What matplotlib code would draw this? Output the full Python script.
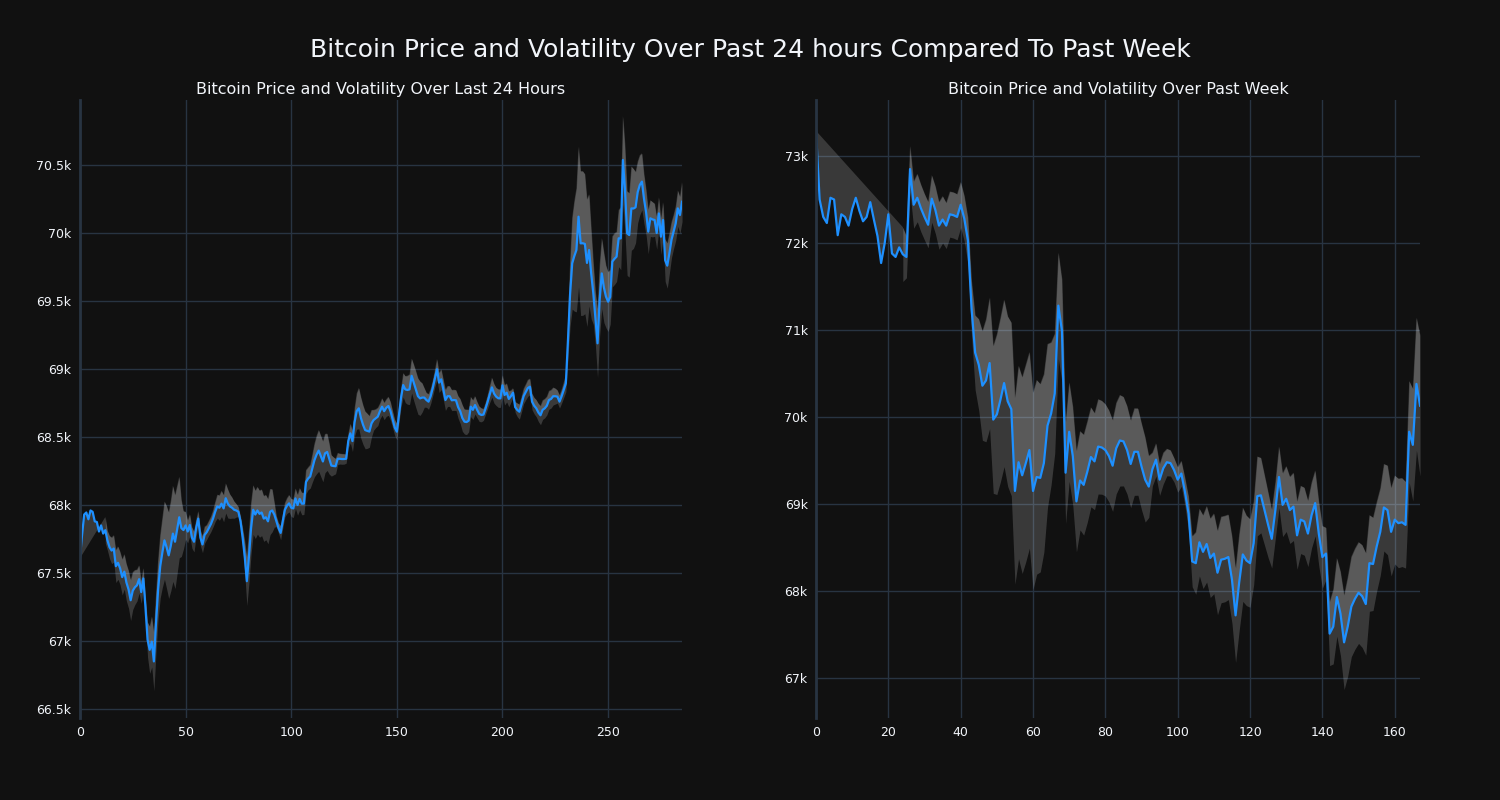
import numpy as np
import pandas as pd
import matplotlib
matplotlib.use("Agg")
from matplotlib import pyplot as plt
from matplotlib.ticker import FuncFormatter

# price over the last 24 hours (5 minute steps)
day_price = [
    67608, 67780, 67930, 67945, 67895, 67960, 67950, 67880, 67875, 67805,
    67850, 67790, 67815, 67740, 67690, 67665, 67680, 67550, 67575, 67535,
    67470, 67510, 67430, 67380, 67300, 67370, 67395, 67410, 67455, 67360,
    67460, 67250, 67010, 66935, 66995, 66850, 67130, 67380, 67550, 67650,
    67740, 67690, 67630, 67700, 67790, 67730, 67820, 67910, 67830, 67816,
    67850, 67805, 67853, 67760, 67730, 67830, 67900, 67760, 67710, 67780,
    67800, 67830, 67860, 67900, 67950, 67990, 67980, 68010, 67975, 68050,
    68010, 67990, 67980, 67965, 67960, 67950, 67880, 67760, 67620, 67440,
    67620, 67830, 67965, 67930, 67960, 67935, 67945, 67900, 67910, 67880,
    67950, 67960, 67930, 67880, 67830, 67795, 67880, 67965, 67995, 68012,
    67980, 67975, 68049, 68000, 68045, 68010, 68010, 68170, 68195, 68210,
    68270, 68330, 68370, 68400, 68360, 68320, 68380, 68390, 68340, 68290,
    68287, 68285, 68340, 68340, 68338, 68338, 68340, 68470, 68527, 68470,
    68610, 68690, 68711, 68640, 68590, 68551, 68545, 68540, 68600, 68625,
    68637, 68650, 68690, 68723, 68690, 68715, 68728, 68690, 68630, 68570,
    68539, 68660, 68790, 68882, 68850, 68846, 68850, 68950, 68900, 68850,
    68800, 68784, 68790, 68790, 68772, 68760, 68800, 68860, 68930, 68998,
    68900, 68924, 68850, 68772, 68800, 68800, 68770, 68772, 68770, 68720,
    68690, 68640, 68613, 68610, 68620, 68723, 68700, 68735, 68700, 68670,
    68662, 68665, 68710, 68760, 68815, 68865, 68820, 68797, 68785, 68784,
    68880, 68809, 68826, 68780, 68800, 68826, 68720, 68699, 68686, 68740,
    68800, 68830, 68860, 68870, 68760, 68730, 68711, 68680, 68660, 68700,
    68711, 68730, 68772, 68780, 68800, 68800, 68797, 68760, 68800, 68846,
    68895, 69213, 69550, 69777, 69830, 69875, 70120, 69924, 69925, 69920,
    69780, 69875, 69700, 69556, 69370, 69189, 69507, 69703, 69600, 69532,
    69495, 69530, 69790, 69810, 69826, 69961, 69960, 70537, 70316, 69998,
    69985, 70181, 70180, 70189, 70300, 70353, 70378, 70250, 70150, 70010,
    70108, 70100, 70096, 70000, 70144, 69973, 70096, 69800, 69760, 69850,
    69950, 70010, 70071, 70181, 70132, 70230,
]

# price over the past week (hourly)
week_price = [
    73290, 72500, 72300, 72230, 72520, 72500, 72090, 72330, 72300, 72200,
    72390, 72520, 72370, 72250, 72300, 72470, 72270, 72080, 71770, 72000,
    72330, 71880, 71840, 71950, 71870, 71840, 72850, 72440, 72520, 72400,
    72300, 72210, 72510, 72380, 72200, 72270, 72200, 72330, 72320, 72300,
    72440, 72280, 72030, 71250, 70740, 70600, 70360, 70420, 70620, 69970,
    70030, 70200, 70390, 70180, 70090, 69150, 69480, 69330, 69470, 69620,
    69150, 69310, 69300, 69470, 69900, 70040, 70270, 71280, 70990, 69360,
    69830, 69550, 69030, 69270, 69220, 69370, 69540, 69490, 69660, 69650,
    69620, 69550, 69440, 69640, 69730, 69720, 69620, 69460, 69600, 69600,
    69430, 69280, 69200, 69400, 69510, 69280, 69410, 69480, 69470, 69390,
    69280, 69350, 69140, 68890, 68340, 68320, 68560, 68450, 68540, 68380,
    68430, 68210, 68360, 68370, 68390, 68130, 67720, 68100, 68420, 68350,
    68320, 68550, 69090, 69100, 68930, 68760, 68600, 68930, 69310, 68990,
    69060, 68930, 68970, 68640, 68820, 68800, 68660, 68870, 69010, 68660,
    68390, 68430, 67510, 67590, 67930, 67740, 67410, 67590, 67820, 67910,
    67980, 67940, 67850, 68320, 68310, 68510, 68680, 68960, 68930, 68680,
    68820, 68780, 68790, 68760, 69830, 69680, 70380, 70130,
]

BG = "#111111"
GRID = "#283442"
TEXT = "#f2f5fa"
LINE = "#1e90ff"


def kfmt(v, pos):
    return "%gk" % (v / 1000)


def draw_panel(ax, price, window, title, ylim):
    s = pd.Series(price, dtype=float)
    x = np.arange(len(s))
    std = s.rolling(window).std()
    upper = s + std
    lower = s - std

    # whole band
    ax.fill_between(x, lower, upper, color="white", alpha=0.17, lw=0)
    # price -> upper band (one polygon, so the start is joined straight)
    ok = upper.notna().values
    px = np.concatenate([x[ok], x[::-1]])
    py = np.concatenate([upper.values[ok], s.values[::-1]])
    ax.fill(px, py, color="white", alpha=0.17, lw=0)

    ax.plot(x, s, color=LINE, lw=1.6)

    ax.set_facecolor(BG)
    ax.set_xlim(0, len(s) - 1)
    ax.set_ylim(*ylim)
    ax.yaxis.set_major_formatter(FuncFormatter(kfmt))
    ax.grid(True, color=GRID, lw=1)
    ax.set_axisbelow(True)
    ax.tick_params(colors=TEXT, length=0, labelsize=9, pad=6)
    for side in ["top", "right", "bottom"]:
        ax.spines[side].set_visible(False)
    ax.spines["left"].set_color(GRID)
    ax.spines["left"].set_linewidth(2)
    ax.set_title(title, color=TEXT, fontsize=11.5, pad=4)


fig = plt.figure(figsize=(15, 8), dpi=100, facecolor=BG)
ax1 = fig.add_axes([0.0533, 0.1025, 0.4014, 0.7725])
ax2 = fig.add_axes([0.544, 0.1025, 0.4027, 0.7725])

draw_panel(ax1, day_price, 13, "Bitcoin Price and Volatility Over Last 24 Hours", (66434, 70978))
draw_panel(ax2, week_price, 25, "Bitcoin Price and Volatility Over Past Week", (66540, 73644))
ax1.set_yticks([66500, 67000, 67500, 68000, 68500, 69000, 69500, 70000, 70500])
ax2.set_yticks([67000, 68000, 69000, 70000, 71000, 72000, 73000])

fig.suptitle("Bitcoin Price and Volatility Over Past 24 hours Compared To Past Week",
             color=TEXT, fontsize=18, y=0.953)

plt.savefig("out.png", dpi=100, facecolor=BG)
plt.close()
